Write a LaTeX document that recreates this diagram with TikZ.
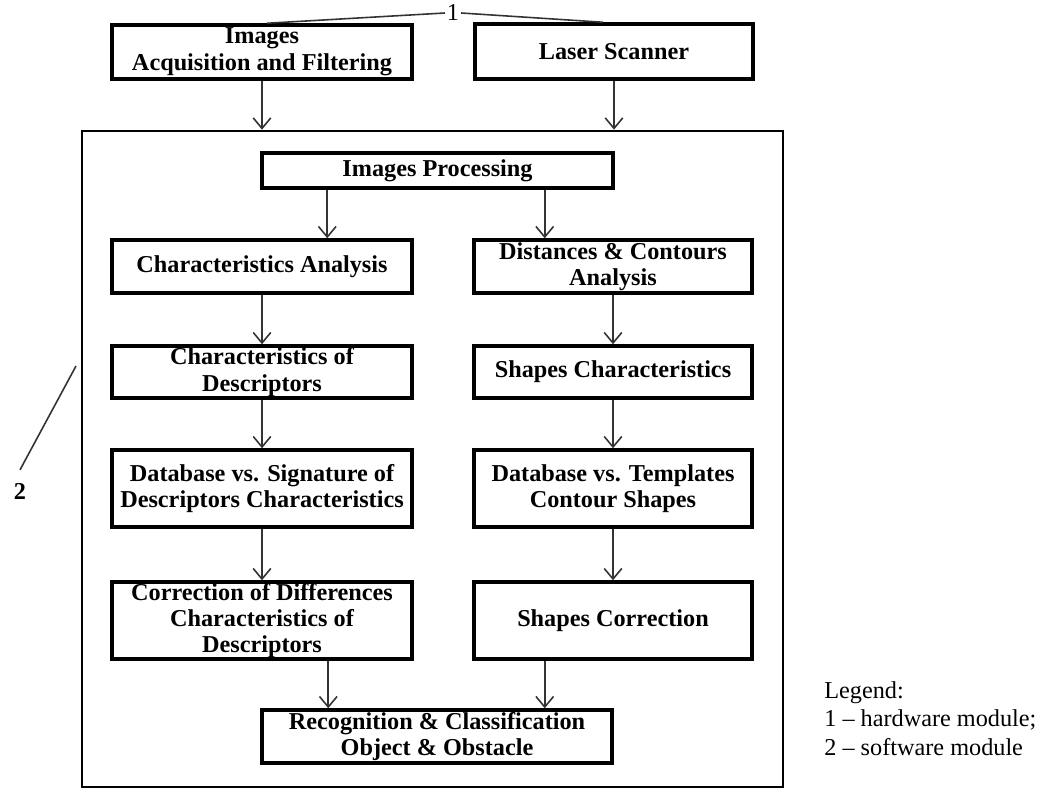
\documentclass[tikz,border=0pt]{standalone}
\usepackage{fontspec}
\setmainfont{Liberation Serif}
\usetikzlibrary{arrows.meta}

\begin{document}
\begin{tikzpicture}[x=0.02cm,y=-0.02cm,
	blk/.style={draw,line width=2pt,align=center,inner xsep=1pt,inner ysep=0pt,
		font=\bfseries\fontsize{13.8}{15.1}\selectfont},
	lcol/.style={blk,minimum width=6cm},
	rcol/.style={blk,minimum width=5.56cm},
	arr/.style={draw=black!80,line width=0.9pt,
		-{Straight Barb[length=6pt,width=10pt,line width=0.9pt]}},
	lbl/.style={line width=0.9pt,draw=black!80}]
	\useasboundingbox (0,0) rectangle (1047,790);
	% hardware
	\node[lcol,minimum height=1.08cm] (acq) at (262,52) {Images\\Acquisition and Filtering};
	\node[rcol,minimum height=1.1cm] (laser) at (614,51.5) {Laser Scanner};
	% software frame
	\node[draw,line width=1.6pt,minimum width=14.02cm,minimum height=13.12cm] (soft) at (432.5,459) {};
	\node[blk,minimum width=7.02cm,minimum height=0.7cm] (proc) at (437.5,170.5) {Images Processing};
	\node[lcol,minimum height=1.06cm] (charan) at (262,266.5) {Characteristics Analysis};
	\node[rcol,minimum height=1.06cm] (dist) at (613,266.5) {Distances \& Contours\\Analysis};
	\node[lcol,minimum height=1.04cm] (chardesc) at (262,372) {Characteristics of\\Descriptors};
	\node[rcol,minimum height=1.04cm] (shapechar) at (613,372) {Shapes Characteristics};
	\node[lcol,minimum height=1.54cm] (dbsig) at (262,488.5) {Database vs. Signature of\\Descriptors Characteristics};
	\node[rcol,minimum height=1.54cm] (dbtmp) at (613,488.5) {Database vs. Templates\\Contour Shapes};
	\node[lcol,minimum height=1.54cm,font=\bfseries\fontsize{13.8}{14.6}\selectfont] (corr) at (262,620.5) {Correction of Differences\\Characteristics of\\Descriptors};
	\node[rcol,minimum height=1.54cm] (shapecorr) at (613,620.5) {Shapes Correction};
	\node[blk,minimum width=7cm,minimum height=1.06cm] (recog) at (437,736.5) {Recognition \& Classification\\Object \& Obstacle};

	\draw[arr] (acq) -- (acq |- soft.north);
	\draw[arr] (laser) -- (laser |- soft.north);
	\draw[arr] ([xshift=1.34cm]proc.south west) -- ([xshift=1.34cm]proc.south west |- charan.north);
	\draw[arr] ([xshift=-1.4cm]proc.south east) -- ([xshift=-1.4cm]proc.south east |- dist.north);
	\draw[arr] (charan) -- (chardesc);
	\draw[arr] (chardesc) -- (dbsig);
	\draw[arr] (dbsig) -- (corr);
	\draw[arr] (dist) -- (shapechar);
	\draw[arr] (shapechar) -- (dbtmp);
	\draw[arr] (dbtmp) -- (shapecorr);
	\draw[arr] ([xshift=1.36cm]recog.north west |- corr.south) -- ([xshift=1.36cm]recog.north west);
	\draw[arr] ([xshift=-1.38cm]recog.north east |- shapecorr.south) -- ([xshift=-1.38cm]recog.north east);

	% callouts
	\node[font=\fontsize{13.8}{15}\selectfont,inner sep=1pt] (hw) at (453,13) {1};
	\draw[lbl] (hw.west) -- ([xshift=0.1cm]acq.north);
	\draw[lbl] (hw.east) -- ([xshift=-0.22cm]laser.north);
	\node[font=\bfseries\fontsize{13.8}{15}\selectfont,inner sep=1pt] (sw) at (20,491) {2};
	\coordinate (swtip) at (76,366);
	\draw[lbl] ([yshift=0.22cm]sw.north) -- (swtip);

	\node[anchor=north west,align=left,inner sep=0pt,font=\fontsize{13.8}{16.4}\selectfont] (legend) at (824,681) {Legend:\\1 -- hardware module;\\2 -- software module};
\end{tikzpicture}
\end{document}
